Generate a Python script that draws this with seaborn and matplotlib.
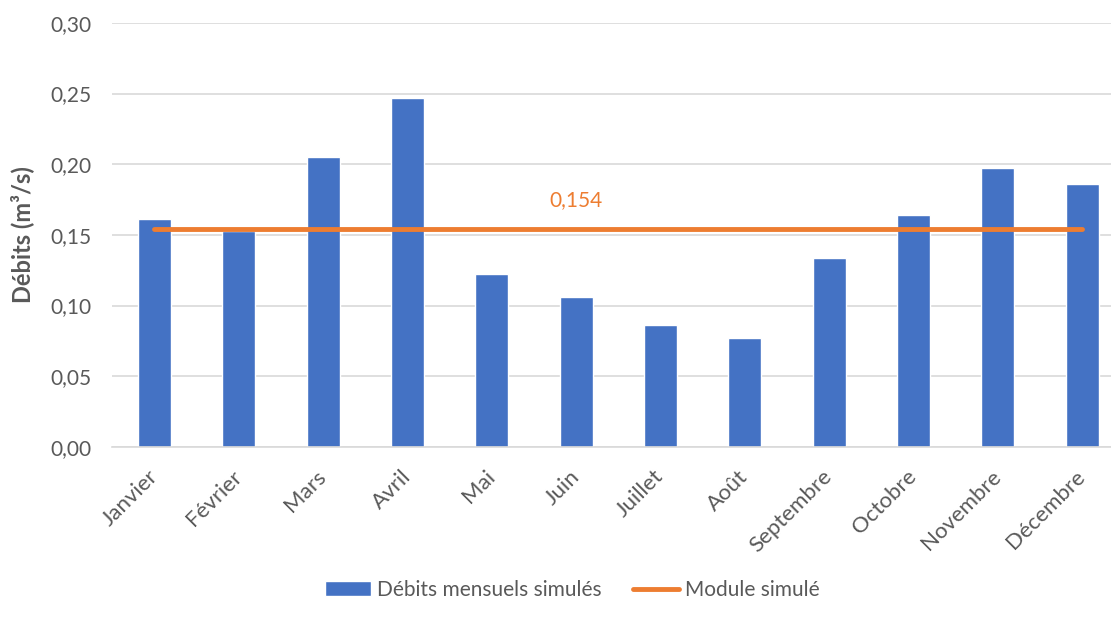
import pandas as pd
import matplotlib
matplotlib.use("Agg")
import matplotlib.pyplot as plt
import matplotlib.transforms as mtransforms
import seaborn as sns
from matplotlib.ticker import FuncFormatter, MultipleLocator
from matplotlib.patches import Patch
from matplotlib.lines import Line2D

# Données
mois = ["Janvier", "Février", "Mars", "Avril", "Mai", "Juin", "Juillet",
        "Août", "Septembre", "Octobre", "Novembre", "Décembre"]
debits = [0.161, 0.153, 0.205, 0.247, 0.122, 0.106, 0.086,
          0.077, 0.134, 0.164, 0.197, 0.186]
module = 0.154

df = pd.DataFrame({"mois": mois, "debit": debits})
df["module"] = module

bleu = "#4472C4"
orange = "#ED7D31"
gris = "#595959"

sns.set_theme(style="white")
plt.rcParams["font.family"] = ["Lato", "DejaVu Sans"]

fig = plt.figure(figsize=(11.11, 6.19), dpi=100)
# l'axe déborde un peu à droite comme dans l'original (grille coupée au bord)
ax = fig.add_axes([0.101, 0.278, 0.911, 0.685])

sns.barplot(data=df, x="mois", y="debit", color=bleu, width=0.39,
            saturation=1, ax=ax, zorder=2)
sns.lineplot(data=df, x="mois", y="module", color=orange, linewidth=3.5,
             ax=ax, zorder=3, solid_capstyle="round")

ax.text(5, module + 0.0205, "0,154", color=orange,
        ha="center", va="center", fontsize=15)

ax.set_ylim(0, 0.30)
ax.set_xlim(-0.5, 11.5)
ax.yaxis.set_major_locator(MultipleLocator(0.05))
ax.yaxis.set_major_formatter(FuncFormatter(lambda v, p: f"{v:.2f}".replace(".", ",")))
ax.grid(axis="y", color="#D9D9D9", linewidth=1.2, zorder=0)
ax.set_axisbelow(True)
for s in ["top", "right", "left"]:
    ax.spines[s].set_visible(False)
ax.spines["bottom"].set_color("#D9D9D9")
ax.spines["bottom"].set_linewidth(1.2)

ax.tick_params(axis="y", length=0, labelsize=15, labelcolor=gris, pad=15)
ax.tick_params(axis="x", length=0, labelsize=16, labelcolor=gris, pad=14)
plt.setp(ax.get_xticklabels(), rotation=45, ha="right", rotation_mode="anchor")

# petit décalage vers la gauche des étiquettes de mois
decal = mtransforms.ScaledTranslation(-5 / 72, 0, fig.dpi_scale_trans)
for lab in ax.get_xticklabels():
    lab.set_transform(lab.get_transform() + decal)

ax.set_xlabel("")
ax.set_ylabel("Débits (m³/s)", fontsize=17, fontweight="bold", color=gris, labelpad=12)

handles = [Patch(facecolor=bleu, label="Débits mensuels simulés"),
           Line2D([0], [0], color=orange, linewidth=3.5, label="Module simulé")]
fig.legend(handles=handles, loc="center", bbox_to_anchor=(0.515, 0.047), ncol=2,
           frameon=False, fontsize=15, labelcolor=gris, handlelength=2.2,
           handletextpad=0.3, columnspacing=1.5)

fig.savefig("out.png", dpi=100)
